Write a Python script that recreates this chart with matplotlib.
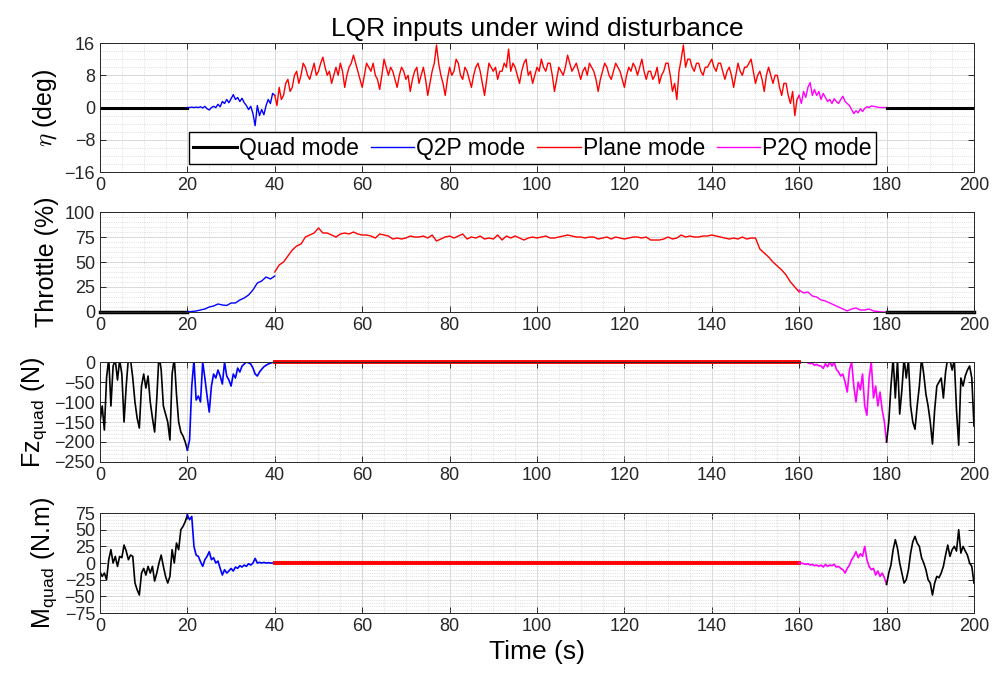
import matplotlib
matplotlib.use("Agg")

import numpy as np
import matplotlib.pyplot as plt
from matplotlib.ticker import MultipleLocator

plt.rcParams["font.family"] = ["Liberation Sans", "DejaVu Sans"]
plt.rcParams["mathtext.fontset"] = "cm"

# MODE COLOURS / LABELS
QUAD_C  = "#000000"
Q2P_C   = "#0000ff"
PLANE_C = "#ff0000"
P2Q_C   = "#ff00ff"
MODE_LABELS = ["Quad mode", "Q2P mode", "Plane mode", "P2Q mode"]

# ---------------- eta (deg), 0.5 s samples ----------------
ETA_QUAD = [0, 0]
ETA_Q2P = [0, 0, 0.1, 0, 0.1, 0, 0.2, -0.1, 0.3, -0.3,
           -0.6, 0, 0.3, 0, 0.8, 0.2, 1.5, 1, 2, 1.2,
           2.2, 3.2, 2, 2.5, 1.5, 2.3, 1.2, 0.5, -0.5, 0.3,
           -1.5, -4.5, 0.5, -2, -0.5, -1.8, 0.5, 2, 1, 3.5,
           3]
ETA_PLANE = [3, 0.5, 5, 2, 3, 6, 7, 4, 5, 8, 9, 6, 8, 11, 10, 8, 7, 9, 11, 8,
             9, 11, 12.5, 10, 8, 9, 6, 8, 10, 8, 11, 9, 5, 8, 10, 11, 13, 11, 9, 7,
             5, 8, 11, 10, 9, 11, 8, 7, 4.5, 8, 12, 10, 8, 10, 9, 7, 5, 8, 10, 9,
             7, 8, 4, 7, 9, 10, 6, 8, 10, 7, 3, 6, 9, 11, 15.5, 11, 8, 6, 3, 7,
             10, 8, 9, 12, 11, 8, 7, 10, 9, 7, 5, 8, 10, 11, 9, 6, 3, 7, 11, 10,
             9, 10, 7, 9, 9, 11, 10, 14.5, 9, 11, 10, 8, 6, 9, 11, 12, 8, 9, 6, 8,
             10, 9, 12, 10, 9, 11, 11, 8, 4, 7, 10, 9, 8, 10, 13, 11, 9, 10, 11, 9,
             7, 9, 10, 8, 11, 10, 9, 7, 4, 7, 9, 11, 10, 8, 7, 9, 11, 10, 9, 7,
             5, 8, 10, 9, 11, 10, 8, 10, 12, 9, 7, 9, 9, 7, 8, 10, 6, 8, 9, 11,
             11, 8, 4, 6, 2, 9, 12, 15.5, 10, 12, 12, 10, 9, 11, 11, 9, 8, 10, 10, 11,
             12, 10, 9, 11, 11, 9, 7, 9, 10, 8, 5, 8, 11, 9, 8, 10, 10, 11, 12, 9,
             6, 8, 9, 7, 4, 8, 10, 8, 6, 8, 8, 5, 3, 6, 6, 3, 1, 4, -2, 2,
             3]
ETA_P2Q = [3, 1, 4, 2.5, 5, 6.2, 3, 4.5, 3, 4,
           2, 3.5, 2.5, 1.5, 2, 1, 2.2, 1.5, 1, 2,
           2.8, 1.5, 1, 0.5, -0.5, -1.5, -0.8, -1.3, -0.3, -1,
           -0.2, 0.2, 0, 0.4, 0.3, 0.2, 0.1, 0, 0, 0,
           0]

# ---------------- throttle (%), 1 s samples ----------------
THR_QUAD = [0, 0]
THR_Q2P = [0, 0.5, 1, 2, 3, 5, 6, 8, 7, 6.5,
           9, 9, 12, 14, 17, 22, 29, 31, 35, 33,
           36]
THR_PLANE = [40, 47, 50, 56, 62, 66, 68, 75, 77, 79,
             84, 79, 79, 77, 75, 78, 79, 78, 80, 78,
             77, 77, 76, 74, 78, 77, 76, 73, 74, 73,
             74, 76, 75, 75, 76, 74, 77, 71, 73, 75,
             76, 74, 76, 78, 73, 75, 74, 76, 73, 74,
             73, 77, 72, 76, 74, 76, 74, 72, 74, 75,
             74, 75, 76, 74, 74, 75, 76, 77, 76, 75,
             75, 74, 75, 75, 73, 74, 75, 73, 75, 74,
             73, 74, 75, 75, 74, 75, 72, 72, 72, 73,
             75, 73, 74, 77, 75, 76, 75, 75, 76, 76,
             77, 76, 75, 74, 73, 74, 73, 75, 73, 74,
             74, 63, 59, 55, 50, 46, 42, 37, 30, 25,
             20]
THR_P2Q = [22, 19, 20, 16, 15, 12, 11, 9, 7, 5,
           3, 1, 3, 4, 2, 2, 3, 1, 0.5, 0,
           0]

# ---------------- Fz_quad (N), 0.5 s samples ----------------
FZ_QUAD_A = [-150, -110, -170, -40, 10, -110, -10, 5, -45, 5,
             -30, -150, -60, 10, 5, -40, -100, -140, -165, -60,
             -30, -65, -35, -100, -140, -175, -90, 20, -20, -110,
             -130, -150, -195, -30, 10, -80, -150, -175, -185, -200,
             -220]
FZ_Q2P = [-220, -195, -60, 5, -95, -85, -100, 0, -40, -85,
          -125, -60, -30, -40, -20, -35, -55, 0, -35, -45,
          -60, -30, -40, -15, -25, -10, -5, 0, -2, -5,
          -15, -30, -35, -25, -18, -12, -8, -5, -3, -1,
          0]
FZ_PLANE = [0, 0]
FZ_P2Q = [0, 0, 0, 1, -2, -4, -3, -8, -6, -9,
          -10, -16, -4, -12, 0, -10, 0, -18, -25, -35,
          -30, -50, -75, -20, 0, -60, -100, -50, -70, -30,
          -110, -133, -40, 0, -90, -60, -110, -75, -120, -150,
          -200]
FZ_QUAD_B = [-200, -150, -60, 10, -90, 5, -130, -70, 10, -40,
             5, -110, -150, -168, -110, -60, 10, -30, -80, -110,
             -150, -205, -120, -60, -50, -40, -90, -25, 10, 5,
             -20, 5, -120, -208, -40, -60, -35, -20, -10, -40,
             -160]

# ---------------- M_quad (N.m), 0.5 s samples ----------------
M_QUAD_A = [-13, -20, -15, -25, 5, 20, 0, 10, -5, 10,
            8, 27, 18, 5, 12, 10, -30, -40, -48, -15,
            -8, -18, -5, -15, -5, -27, -15, 0, 12, -5,
            -20, -30, -20, 20, 0, 30, 20, 50, 55, 62,
            72]
M_Q2P = [72, 65, 70, 25, 12, 10, 2, -5, 5, 10,
         17, 5, 8, 0, 3, -8, -18, -10, -15, -12,
         -8, -12, -6, -8, -4, -6, -3, -5, -1, -3,
         0, 7, 0, 1, 0, 1, 0, 0.5, 0, 0,
         0]
M_PLANE = [0, 0]
M_P2Q = [0, 0, -1, -2, -1, -3, -2, -4, -3, -5,
         -3, -6, -2, -5, -3, -4, -2, -6, -5, -8,
         -10, -15, -8, -3, 5, 10, 17, 8, 14, 10,
         25, 5, -5, -10, -8, -18, -12, -20, -15, -22,
         -32]
M_QUAD_B = [-32, -15, -3, 20, 35, 22, 0, -15, -30, -25,
            -10, 15, 32, 40, 30, 25, 8, 0, -10, -25,
            -30, -48, -30, -20, -22, -15, -5, 12, 27, 10,
            20, 25, 18, 50, 15, 25, 18, 12, 0, -5,
            -30]

X_TICKS = np.arange(0, 201, 20)


def seg(ax, t0, t1, vals, color, lw, label=None, clip=True):
    t = np.linspace(t0, t1, len(vals))
    ax.plot(t, vals, color=color, linewidth=lw, label=label, clip_on=clip)


def style_axis(ax, ylim, ymajor, yminor):
    ax.set_xlim(0, 200)
    ax.set_ylim(*ylim)
    ax.set_xticks(X_TICKS)
    ax.yaxis.set_major_locator(MultipleLocator(ymajor))
    ax.xaxis.set_minor_locator(MultipleLocator(5))
    ax.yaxis.set_minor_locator(MultipleLocator(yminor))
    ax.grid(True, which="major", color="#d9d9d9", linewidth=0.7, linestyle="-")
    ax.grid(True, which="minor", color="#d4d4d4", linewidth=0.6, linestyle=":")
    ax.set_axisbelow(True)
    ax.tick_params(which="major", direction="in", top=True, right=True,
                   length=4, width=0.7, labelsize=13, colors="#262626")
    ax.tick_params(which="minor", length=0)
    for s in ax.spines.values():
        s.set_color("#262626")
        s.set_linewidth(0.7)


fig = plt.figure(figsize=(10.04, 6.80), dpi=100)
ax1 = fig.add_axes([0.0996, 0.747, 0.8705, 0.1897])
ax2 = fig.add_axes([0.0996, 0.5412, 0.8705, 0.147])
ax3 = fig.add_axes([0.0996, 0.3206, 0.8705, 0.147])
ax4 = fig.add_axes([0.0996, 0.0985, 0.8705, 0.147])

# eta
seg(ax1, 0, 20, ETA_QUAD, QUAD_C, 2.2, MODE_LABELS[0])
seg(ax1, 20, 40, ETA_Q2P, Q2P_C, 1.0, MODE_LABELS[1])
seg(ax1, 40, 160, ETA_PLANE, PLANE_C, 1.0, MODE_LABELS[2])
seg(ax1, 160, 180, ETA_P2Q, P2Q_C, 1.0, MODE_LABELS[3])
seg(ax1, 180, 200, ETA_QUAD, QUAD_C, 2.2)
style_axis(ax1, (-16, 16), 8, 2)
ax1.set_ylabel(r"$\eta$ (deg)", fontsize=18)
ax1.set_title("LQR inputs under wind disturbance", fontsize=19, pad=5)
ax1.legend(loc="lower center", bbox_to_anchor=(0.495, 0.06), ncol=4,
           fontsize=16.5, frameon=True, fancybox=False, edgecolor="black",
           framealpha=1, handlelength=1.9, handletextpad=0.1,
           columnspacing=0.5, borderpad=0.2, borderaxespad=0)

# throttle
seg(ax2, 0, 20, THR_QUAD, QUAD_C, 2.5, clip=False)
seg(ax2, 20, 40, THR_Q2P, Q2P_C, 1.0)
seg(ax2, 40, 160, THR_PLANE, PLANE_C, 1.0)
seg(ax2, 160, 180, THR_P2Q, P2Q_C, 1.0)
seg(ax2, 180, 200, THR_QUAD, QUAD_C, 2.5, clip=False)
style_axis(ax2, (0, 100), 25, 5)
ax2.set_ylabel("Throttle (%)", fontsize=18)

# Fz quad
seg(ax3, 0, 20, FZ_QUAD_A, QUAD_C, 1.2)
seg(ax3, 20, 40, FZ_Q2P, Q2P_C, 1.2)
seg(ax3, 40, 160, FZ_PLANE, PLANE_C, 2.8, clip=False)
seg(ax3, 160, 180, FZ_P2Q, P2Q_C, 1.2)
seg(ax3, 180, 200, FZ_QUAD_B, QUAD_C, 1.2)
style_axis(ax3, (-250, 0), 50, 10)
ax3.set_ylabel(r"Fz$_\mathregular{quad}$ (N)", fontsize=18)

# M quad
seg(ax4, 0, 20, M_QUAD_A, QUAD_C, 1.2)
seg(ax4, 20, 40, M_Q2P, Q2P_C, 1.2)
seg(ax4, 40, 160, M_PLANE, PLANE_C, 2.8)
seg(ax4, 160, 180, M_P2Q, P2Q_C, 1.2)
seg(ax4, 180, 200, M_QUAD_B, QUAD_C, 1.2)
style_axis(ax4, (-75, 75), 25, 5)
ax4.set_ylabel(r"M$_\mathregular{quad}$ (N.m)", fontsize=18)
ax4.set_xlabel("Time (s)", fontsize=19)

fig.savefig("out.png", dpi=100)
plt.close(fig)
